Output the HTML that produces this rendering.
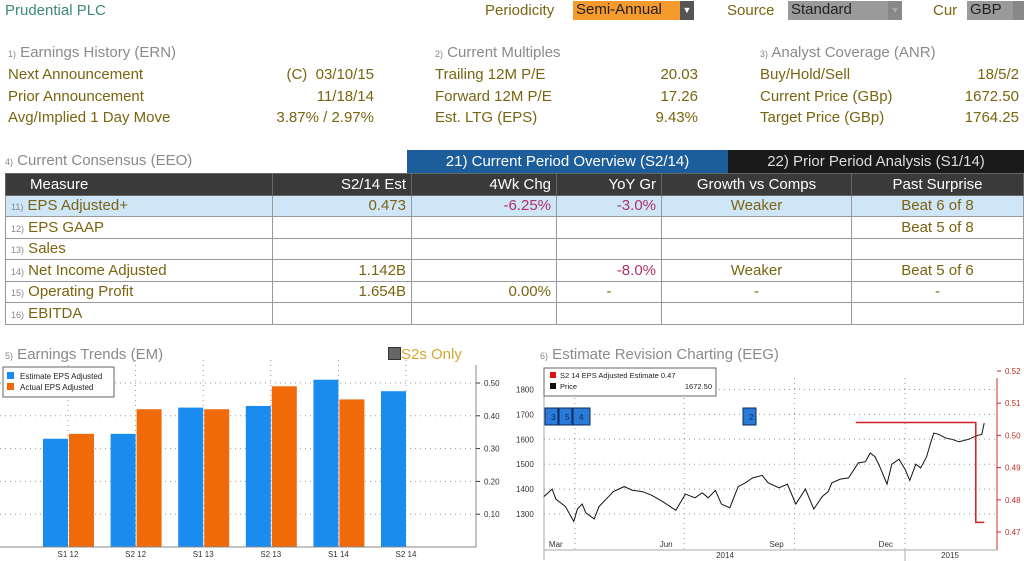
<!DOCTYPE html>
<html><head><meta charset="utf-8">
<style>
body{margin:0;width:1024px;height:561px;background:#fff;font-family:"Liberation Sans",sans-serif;position:relative;overflow:hidden}
.a{position:absolute;white-space:nowrap;font-size:15px;line-height:18px}
.ol{color:#7a6410}
.gr{color:#8a8a8a}
.r{text-align:right}
.num{color:#888;font-size:9px}
table{position:absolute;left:5px;top:173px;width:1018px;border-collapse:collapse;font-size:15px;table-layout:fixed}
td,th{border:1px solid #999;height:20.5px;padding:0 5px;white-space:nowrap;overflow:hidden}
th{background:#3a3a3a;color:#fff;font-weight:normal;border-color:#666}
td{color:#7a6410}
tr.hl td{background:#cfe6f9}
.neg{color:#b0306a}
</style></head><body>
<div class="a" style="left:5px;top:2px;color:#3d8a7a">Prudential PLC</div>
<div class="a ol" style="left:485px;top:2px">Periodicity</div>
<div class="a" style="left:573px;top:1px;width:107px;height:19px;background:#f59a2c;color:#222;padding-left:3px;box-sizing:border-box">Semi-Annual</div>
<div class="a" style="left:680px;top:1px;width:14px;height:19px;background:#555;color:#fff;font-size:9px;text-align:center">▼</div>
<div class="a ol" style="left:727px;top:2px">Source</div>
<div class="a" style="left:788px;top:1px;width:100px;height:19px;background:#9a9a9a;color:#222;padding-left:3px;box-sizing:border-box">Standard</div>
<div class="a" style="left:888px;top:1px;width:14px;height:19px;background:#888;color:#aaa;font-size:9px;text-align:center">▼</div>
<div class="a ol" style="left:933px;top:2px">Cur</div>
<div class="a" style="left:967px;top:1px;width:46px;height:19px;background:#9a9a9a;color:#222;padding-left:3px;box-sizing:border-box">GBP</div>
<div class="a" style="left:1013px;top:1px;width:11px;height:19px;background:#888"></div>

<div class="a gr" style="left:8px;top:44px"><span class="num">1)</span> Earnings History (ERN)</div>
<div class="a ol" style="left:8px;top:66px">Next Announcement</div>
<div class="a ol r" style="left:250px;top:66px;width:124px">(C)&nbsp; 03/10/15</div>
<div class="a ol" style="left:8px;top:88px">Prior Announcement</div>
<div class="a ol r" style="left:250px;top:88px;width:124px">11/18/14</div>
<div class="a ol" style="left:8px;top:109px">Avg/Implied 1 Day Move</div>
<div class="a ol r" style="left:250px;top:109px;width:124px">3.87% / 2.97%</div>

<div class="a gr" style="left:435px;top:44px"><span class="num">2)</span> Current Multiples</div>
<div class="a ol" style="left:435px;top:66px">Trailing 12M P/E</div>
<div class="a ol r" style="left:600px;top:66px;width:98px">20.03</div>
<div class="a ol" style="left:435px;top:88px">Forward 12M P/E</div>
<div class="a ol r" style="left:600px;top:88px;width:98px">17.26</div>
<div class="a ol" style="left:435px;top:109px">Est. LTG (EPS)</div>
<div class="a ol r" style="left:600px;top:109px;width:98px">9.43%</div>

<div class="a gr" style="left:760px;top:44px"><span class="num">3)</span> Analyst Coverage (ANR)</div>
<div class="a ol" style="left:760px;top:66px">Buy/Hold/Sell</div>
<div class="a ol r" style="left:920px;top:66px;width:99px">18/5/2</div>
<div class="a ol" style="left:760px;top:88px">Current Price (GBp)</div>
<div class="a ol r" style="left:920px;top:88px;width:99px">1672.50</div>
<div class="a ol" style="left:760px;top:109px">Target Price (GBp)</div>
<div class="a ol r" style="left:920px;top:109px;width:99px">1764.25</div>

<div class="a gr" style="left:5px;top:152px"><span class="num">4)</span> Current Consensus (EEO)</div>
<div class="a" style="left:407px;top:150px;width:321px;height:23px;background:#1c5d9c;color:#fff;text-align:center;line-height:23px">21) Current Period Overview (S2/14)</div>
<div class="a" style="left:728px;top:150px;width:296px;height:23px;background:#1a1a1a;color:#ddd;text-align:center;line-height:23px">22) Prior Period Analysis (S1/14)</div>

<table>
<colgroup><col style="width:267px"><col style="width:139px"><col style="width:145px"><col style="width:105px"><col style="width:190px"><col style="width:172px"></colgroup>
<tr><th style="text-align:left;padding-left:24px">Measure</th><th style="text-align:right">S2/14 Est</th><th style="text-align:right">4Wk Chg</th><th style="text-align:right">YoY Gr</th><th>Growth vs Comps</th><th>Past Surprise</th></tr>
<tr class="hl"><td><span class="num">11)</span> EPS Adjusted+</td><td style="text-align:right">0.473</td><td class="neg" style="text-align:right">-6.25%</td><td class="neg" style="text-align:right">-3.0%</td><td style="text-align:center">Weaker</td><td style="text-align:center">Beat 6 of 8</td></tr>
<tr><td><span class="num">12)</span> EPS GAAP</td><td></td><td></td><td></td><td></td><td style="text-align:center">Beat 5 of 8</td></tr>
<tr><td><span class="num">13)</span> Sales</td><td></td><td></td><td></td><td></td><td></td></tr>
<tr><td><span class="num">14)</span> Net Income Adjusted</td><td style="text-align:right">1.142B</td><td></td><td class="neg" style="text-align:right">-8.0%</td><td style="text-align:center">Weaker</td><td style="text-align:center">Beat 5 of 6</td></tr>
<tr><td><span class="num">15)</span> Operating Profit</td><td style="text-align:right">1.654B</td><td style="text-align:right">0.00%</td><td style="text-align:center">-</td><td style="text-align:center">-</td><td style="text-align:center">-</td></tr>
<tr><td><span class="num">16)</span> EBITDA</td><td></td><td></td><td></td><td></td><td></td></tr>
</table>

<div class="a gr" style="left:5px;top:346px"><span class="num">5)</span> Earnings Trends (EM)</div>
<div class="a" style="left:388px;top:346px;color:#d4a830"><span style="display:inline-block;width:11px;height:11px;background:#666;border:1px solid #333;vertical-align:-1px"></span>S2s Only</div>
<div class="a gr" style="left:540px;top:346px"><span class="num">6)</span> Estimate Revision Charting (EEG)</div>

<svg id="bar" style="position:absolute;left:0;top:360px" width="512" height="201"></svg>
<svg id="line" style="position:absolute;left:512px;top:360px" width="512" height="201"></svg>

<script>
const categories=["S1 12","S2 12","S1 13","S2 13","S1 14","S2 14"];
const estimateEPS=[0.33,0.345,0.425,0.43,0.51,0.475];
const actualEPS=[0.345,0.42,0.42,0.49,0.45,null];
const barTicks=[0.1,0.2,0.3,0.4,0.5];

const priceDays=[5,12,15,23,30,33,37,40,47,51,59,63,72,79,87,95,104,115,123,131,137,142,148,153,160,167,173,179,187,192,201,208,215,223,230,237,242,245,252,259,267,273,277,281,285,291,295,301,306,310,315,319,324,327,330,334,340,345,351,359,366,370,372];
const priceValues=[1370,1400,1360,1330,1270,1320,1340,1305,1280,1330,1370,1390,1410,1395,1390,1375,1350,1315,1380,1365,1385,1365,1395,1340,1325,1410,1425,1445,1455,1425,1405,1420,1340,1400,1320,1370,1390,1425,1440,1445,1505,1510,1545,1530,1490,1420,1500,1520,1480,1435,1500,1485,1530,1580,1625,1620,1605,1600,1590,1600,1615,1620,1665];
const estDays=[265,365,365,372];
const estValues=[0.504,0.504,0.473,0.473];
const priceTicks=[1300,1400,1500,1600,1700,1800];
const estTicks=[0.47,0.48,0.49,0.50,0.51,0.52];
const monthLabels=["Mar","Jun","Sep","Dec"];
const monthLabelDays=[15,107,199,290];
const gridDays=[31,122,214,306];

const NS="http://www.w3.org/2000/svg";
function mk(svg,tag,attrs){const e=document.createElementNS(NS,tag);for(const k in attrs)e.setAttribute(k,attrs[k]);svg.appendChild(e);return e;}

(function(){
const svg=document.getElementById('bar');
const y=v=>187-v*328;
const cx=i=>68+i*67.6;
for(const t of barTicks){
  const l=mk(svg,'line',{x1:0,x2:476,y1:y(t),y2:y(t),stroke:'#999','stroke-dasharray':'1 4'});
  
  const tx=mk(svg,'text',{x:484,y:y(t)+3,'font-size':8,fill:'#333','font-family':'Liberation Sans'});
  
  tx.textContent=t.toFixed(2);
  mk(svg,'line',{x1:476,x2:480,y1:y(t),y2:y(t),stroke:'#333'});
}
categories.forEach((c,i)=>{
  const v=mk(svg,'line',{x1:cx(i),x2:cx(i),y1:0,y2:187,stroke:'#999','stroke-dasharray':'1 4'});
  
  const b=mk(svg,'rect',{x:cx(i)-25,y:y(estimateEPS[i]),width:25,height:187-y(estimateEPS[i]),fill:'#1a8cf0'});
  
  if(actualEPS[i]!=null){
    const a=mk(svg,'rect',{x:cx(i)+1,y:y(actualEPS[i]),width:25,height:187-y(actualEPS[i]),fill:'#f06a0a'});
    
  }
  const t=mk(svg,'text',{x:cx(i),y:197,'font-size':8,fill:'#333','text-anchor':'middle','font-family':'Liberation Sans'});
  
  t.textContent=c;
});
mk(svg,'line',{x1:0,x2:476,y1:187,y2:187,stroke:'#888'});
mk(svg,'line',{x1:476,x2:476,y1:5,y2:187,stroke:'#888'});
const lg=mk(svg,'rect',{x:3,y:7,width:111,height:30,fill:'#fff',stroke:'#666'});

mk(svg,'rect',{x:7,y:12,width:7,height:7,fill:'#1a8cf0'});
mk(svg,'rect',{x:7,y:23,width:7,height:7,fill:'#f06a0a'});
const l1=mk(svg,'text',{x:20,y:19,'font-size':8,fill:'#222','font-family':'Liberation Sans'});l1.textContent='Estimate EPS Adjusted';

const l2=mk(svg,'text',{x:20,y:30,'font-size':8,fill:'#222','font-family':'Liberation Sans'});l2.textContent='Actual EPS Adjusted';

})();

(function(){
const svg=document.getElementById('line');
const x=d=>63+(d-31)*1.2;
const yp=p=>154-(p-1300)*0.249;
const ye=v=>172-(v-0.47)*3220;
mk(svg,'line',{x1:32,x2:32,y1:18,y2:200,stroke:'#aaa'});
for(const t of priceTicks){
  const l=mk(svg,'line',{x1:32,x2:485,y1:yp(t),y2:yp(t),stroke:'#999','stroke-dasharray':'1 4'});
  
  const tx=mk(svg,'text',{x:4,y:yp(t)+3,'font-size':8,fill:'#333','font-family':'Liberation Sans'});
  
  tx.textContent=t;
}
for(const t of estTicks){
  const tx=mk(svg,'text',{x:493,y:ye(t)+3,'font-size':8,fill:'#c0302a','font-family':'Liberation Sans'});
  
  tx.textContent=t.toFixed(2);
  mk(svg,'line',{x1:485,x2:489,y1:ye(t),y2:ye(t),stroke:'#c0302a'});
}
mk(svg,'line',{x1:485,x2:485,y1:18,y2:190,stroke:'#c0302a'});
gridDays.forEach(d=>{
  const l=mk(svg,'line',{x1:x(d),x2:x(d),y1:18,y2:190,stroke:'#999','stroke-dasharray':'1 4'});
  
});
mk(svg,'line',{x1:32,x2:485,y1:190,y2:190,stroke:'#aaa'});
mk(svg,'line',{x1:x(306),x2:x(306),y1:190,y2:201,stroke:'#aaa'});
monthLabels.forEach((m,i)=>{
  const t=mk(svg,'text',{x:x(monthLabelDays[i]),y:187,'font-size':8,fill:'#333','text-anchor':'middle','font-family':'Liberation Sans'});
  
  t.textContent=m;
});
const y1=mk(svg,'text',{x:213,y:198,'font-size':8,fill:'#333','text-anchor':'middle','font-family':'Liberation Sans'});y1.textContent='2014';

const y2=mk(svg,'text',{x:438,y:198,'font-size':8,fill:'#333','text-anchor':'middle','font-family':'Liberation Sans'});y2.textContent='2015';

[[33,'3'],[47,'5'],[61,'4'],[231,'2']].forEach(([px,lab])=>{
  const r=mk(svg,'rect',{x:px,y:48,width:lab==='4'?17:13,height:17,fill:'#2a7ad8',stroke:'#0a2a60'});
  
  const t=mk(svg,'text',{x:px+6,y:60,'font-size':8,fill:'#0a2a60','font-family':'Liberation Sans'});t.textContent=lab;
});
const pts=priceDays.map((d,i)=>x(d)+','+yp(priceValues[i])).join(' ');
const pl=mk(svg,'polyline',{points:pts,fill:'none',stroke:'#111','stroke-width':1});

const ep=estDays.map((d,i)=>x(d)+','+ye(estValues[i])).join(' ');
const el=mk(svg,'polyline',{points:ep,fill:'none',stroke:'#d02020','stroke-width':1.5});

const lg=mk(svg,'rect',{x:32,y:8,width:172,height:28,fill:'#fff',stroke:'#666'});

mk(svg,'rect',{x:38,y:12,width:6,height:6,fill:'#e01010'});
mk(svg,'rect',{x:38,y:23,width:6,height:6,fill:'#111'});
const a=mk(svg,'text',{x:48,y:18,'font-size':7.5,fill:'#222','font-family':'Liberation Sans'});a.textContent='S2 14 EPS Adjusted Estimate  0.47';

const b=mk(svg,'text',{x:48,y:29,'font-size':7.5,fill:'#222','font-family':'Liberation Sans'});b.textContent='Price';

const c=mk(svg,'text',{x:200,y:29,'font-size':7.5,fill:'#222','text-anchor':'end','font-family':'Liberation Sans'});c.textContent='1672.50';
})();
</script>
</body></html>
